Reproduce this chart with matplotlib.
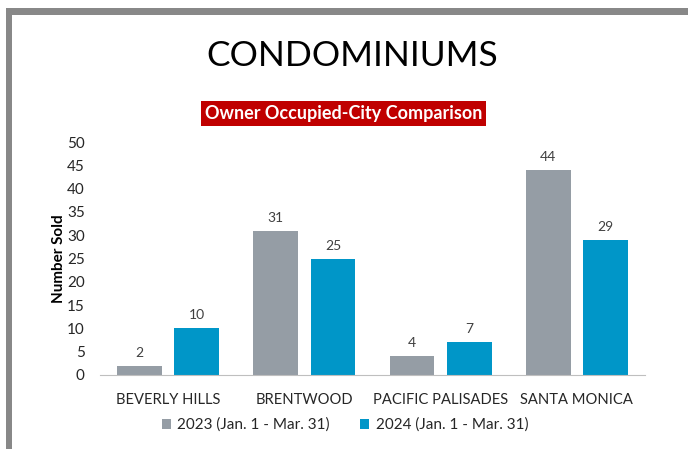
import matplotlib
matplotlib.use("Agg")
import matplotlib.pyplot as plt
import numpy as np
from matplotlib.patches import Rectangle

categories = ["BEVERLY HILLS", "BRENTWOOD", "PACIFIC PALISADES", "SANTA MONICA"]
series_names = ["2023 (Jan. 1 - Mar. 31)", "2024 (Jan. 1 - Mar. 31)"]
values_2023 = [2, 31, 4, 44]
values_2024 = [10, 25, 7, 29]
y_ticks = [0, 5, 10, 15, 20, 25, 30, 35, 40, 45, 50]

plt.rcParams['font.family'] = ['Lato', 'DejaVu Sans']

W, H = 688, 449
fig = plt.figure(figsize=(W/100, H/100), dpi=100)
fig.patch.set_facecolor('white')

# frame border (top and left)
fig.patches.append(Rectangle((6/W, 1-15/H), 1-6/W, 7/H, transform=fig.transFigure,
                             facecolor='#888888', edgecolor='none'))
fig.patches.append(Rectangle((6/W, 0), 6/W, 1-8/H, transform=fig.transFigure,
                             facecolor='#888888', edgecolor='none'))

ax = fig.add_axes([100/W, 1-375/H, 545/W, 233/H])
x = np.arange(len(categories))
w = 0.33
off = 0.21
c1, c2 = '#959da5', '#0096c8'
b1 = ax.bar(x - off, values_2023, w, color=c1, label=series_names[0])
b2 = ax.bar(x + off, values_2024, w, color=c2, label=series_names[1])
for bars, vals in ((b1, values_2023), (b2, values_2024)):
    for b, v in zip(bars, vals):
        ax.annotate(str(v), (b.get_x() + b.get_width()/2, v), xytext=(0, 5),
                    textcoords='offset points', ha='center', va='bottom',
                    fontsize=10, color='#404040')

ax.set_xlim(-0.5, 3.5)
ax.set_ylim(0, 50)
ax.set_yticks(y_ticks)
ax.set_xticks(x)
ax.set_xticklabels(categories)
ax.tick_params(axis='both', length=0, labelsize=11, colors='#262626')
ax.tick_params(axis='x', pad=13, labelsize=10.6)
ax.tick_params(axis='y', pad=11)
for s in ('top', 'right', 'left'):
    ax.spines[s].set_visible(False)
ax.spines['bottom'].set_color('#bfbfbf')
ax.set_ylabel("Number Sold", fontsize=11, fontweight='bold', color='#000000', labelpad=1)

leg = fig.legend(handles=[b1, b2], labels=series_names, loc='center',
                 bbox_to_anchor=(345/W, 1-425/H), ncol=2, frameon=False,
                 fontsize=11, handlelength=0.6, handleheight=0.6, handletextpad=0.4,
                 columnspacing=2.0)
for t in leg.get_texts():
    t.set_color('#262626')

fig.text(352/W, 1-56/H, "CONDOMINIUMS", ha='center', va='center', fontsize=25.5, color='black')
fig.text(343.5/W, 1-113.5/H, "Owner Occupied-City Comparison", ha='center', va='center',
         fontsize=13, fontweight='bold', color='white',
         bbox=dict(boxstyle='square,pad=0.2', facecolor='#c00000', edgecolor='none'))

fig.savefig("out.png", dpi=100)
